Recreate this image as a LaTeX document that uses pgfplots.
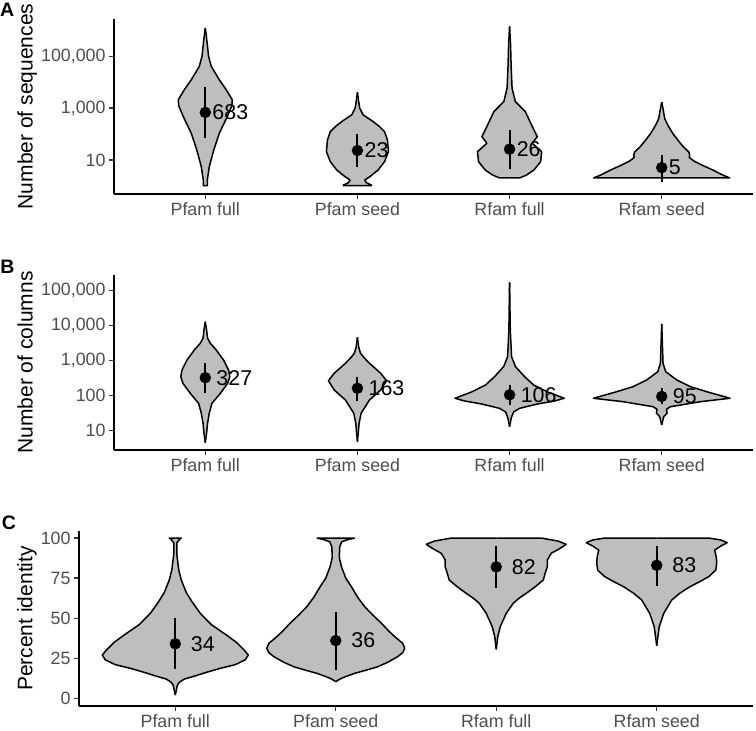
\documentclass[border=0pt]{standalone}
\usepackage{pgfplots}
\pgfplotsset{compat=1.18}
\usepackage{pgfplotstable}
\usepgfplotslibrary{fillbetween}
\usepackage{fontspec}
\setmainfont{Liberation Sans}
\definecolor{vgray}{HTML}{BEBEBE}
\definecolor{labcol}{HTML}{4D4D4D}
\definecolor{tickcol}{HTML}{333333}
\newcommand\ticksize{\fontsize{17.8bp}{20bp}\selectfont}
\newcommand\titlesize{\fontsize{21bp}{24bp}\selectfont}
\newcommand\labsize{\fontsize{21.4bp}{24bp}\selectfont}
\newcommand\letsize{\bfseries\fontsize{19.5bp}{22bp}\selectfont}

% ---------- Panel A: number of sequences ----------
\pgfplotstableread{
y w
1.26e6 0
4.4e5 0.0099
1e5 0.0217
4.1e4 0.0395
1.25e4 0.0921
5.1e3 0.1382
2.1e3 0.1776
1.23e3 0.1743
472 0.1447
225 0.1184
107 0.0921
24.2 0.0559
5.45 0.0263
1.66 0.0132
1.0 0.0132
1.0 0
}\tAa
\pgfplotstableread{
y w
4170 0
2000 0.007
1000 0.015
550 0.0375
303 0.103
194 0.145
124 0.178
59 0.197
20.8 0.204
8.5 0.178
4.06 0.136
2.23 0.081
1.66 0.048
1.31 0.059
1.06 0.092
1.0 0.092
1.0 0
}\tAb
\pgfplotstableread{
y w
1.46e6 0
2.8e5 0.0066
4.76e4 0.0099
5.96e3 0.0164
1.8e3 0.0375
738 0.103
303 0.134
144 0.160
79 0.182
44 0.149
20.8 0.211
8.5 0.204
4.06 0.160
2.6 0.112
2.0 0.066
2.0 0
}\tAc
\pgfplotstableread{
y w
1710 0
860 0.0099
398 0.0197
225 0.039
107 0.072
59 0.105
32.5 0.141
20.2 0.178
15.5 0.184
12.4 0.181
9.06 0.211
6.34 0.263
4.06 0.336
2.6 0.401
2.0 0.447
2.0 0
}\tAd

% ---------- Panel B: number of columns ----------
\pgfplotstableread{
y w
1.3e4 0
7530 0.0086
4360 0.015
3140 0.033
2020 0.072
1047 0.12
542 0.153
349 0.161
226 0.147
117 0.099
60.7 0.044
31.4 0.026
16.3 0.015
8.6 0.0086
4.54 0
}\tBa
\pgfplotstableread{
y w
4670 0
2500 0.008
1630 0.02
1200 0.045
843 0.079
437 0.153
268 0.191
146 0.153
75.4 0.079
31.4 0.024
16.3 0.011
4.86 0
}\tBb
\pgfplotstableread{
y w
1.74e5 0
7530 0.0046
1300 0.013
674 0.039
349 0.099
202 0.158
128 0.25
84.4 0.359
70.6 0.296
58 0.184
43.6 0.066
34.2 0.026
23.1 0.011
13 0
}\tBc
\pgfplotstableread{
y w
1.12e4 0
843 0.0086
485 0.026
281 0.099
181 0.189
130 0.296
84.4 0.449
67.5 0.255
48.5 0.057
40.8 0.031
31.4 0.035
25.1 0.013
14.6 0
}\tBd

% ---------- Panel C: percent identity ----------
\pgfplotstableread{
y w
100 0
100 0.0374
99 0.0249
97 0.0093
90 0.0093
80 0.0218
73.8 0.0374
66 0.0685
60 0.1059
53 0.1558
46 0.2243
40 0.3115
35 0.380
30 0.430
27 0.455
24 0.436
21 0.374
18.7 0.280
16 0.187
14 0.125
12 0.056
10 0.025
8 0.0125
2 0
}\tCa
\pgfplotstableread{
y w
100 0
100 0.1165
99 0.0748
97.7 0.0374
94.6 0.0249
88 0.0218
82.1 0.0355
75 0.0623
69.6 0.0978
63 0.137
57.1 0.181
52 0.2305
46.8 0.285
42 0.330
38.4 0.368
34.3 0.417
31.2 0.430
28.5 0.417
26 0.386
22.5 0.324
19.7 0.262
17.5 0.187
15.6 0.118
13.8 0.0685
12.5 0.0355
11.2 0.0125
10.4 0
}\tCb
\pgfplotstableread{
y w
100 0
100 0.280
98.1 0.386
96.1 0.436
93.6 0.399
90.5 0.343
86.3 0.318
82.1 0.318
78 0.305
73.8 0.293
69.6 0.243
65.5 0.187
62.5 0.143
59.3 0.106
53 0.0623
44.7 0.025
38.4 0.0093
30.6 0
}\tCc
\pgfplotstableread{
y w
100 0
100 0.324
98.8 0.399
97.1 0.439
95 0.399
92.5 0.361
88.3 0.371
84.2 0.374
80 0.368
75.9 0.324
72.8 0.268
69.6 0.206
65.5 0.143
61.3 0.0935
53 0.0436
44.7 0.0156
32.8 0
}\tCd

\newcommand{\violin}[3]{% #1 prefix, #2 centre, #3 table
  \addplot[draw=none, forget plot, name path=#1R] table[x expr=#2+\thisrow{w}, y=y] {#3};
  \addplot[draw=none, forget plot, name path=#1L] table[x expr=#2-\thisrow{w}, y=y] {#3};
  \addplot[fill=vgray, draw=none, forget plot] fill between[of=#1R and #1L];
  \addplot[vline, forget plot] table[x expr=#2+\thisrow{w}, y=y] {#3};
  \addplot[vline, forget plot] table[x expr=#2-\thisrow{w}, y=y] {#3};
}

\pgfplotsset{
  vline/.style={black, line width=1.5bp, line join=round},
  ebar/.style={black, line width=2bp, forget plot},
  panel/.style={
    scale only axis, height=175bp,
    xmin=0.4, xmax=4.6, xtick={1,2,3,4},
    xticklabels={Pfam full, Pfam seed, Rfam full, Rfam seed},
    axis x line=bottom, axis y line=left,
    axis line style={-, line width=1.5bp, black},
    tick align=outside, major tick length=5bp,
    every tick/.style={line width=1.3bp, tickcol},
    tick label style={font=\ticksize, text=labcol},
    yminorticks=false, xminorticks=false,
    clip=false,
  },
  ylab/.style={ylabel style={font=\titlesize, text=black, rotate=0,
    at={(axis description cs:#1,0.5)}, anchor=base}},
  pts/.style={only marks, mark=*, mark size=5.5bp, black,
    nodes near coords, point meta=explicit symbolic,
    every node near coord/.append style={anchor=west, inner sep=0pt, font=\labsize, text=black, xshift=#1}},
}

\begin{document}
\begin{tikzpicture}[x=1bp, y=1bp]
\path (0,0) rectangle (756,730);

% Panel A
\begin{axis}[panel, at={(114bp,536bp)}, anchor=south west, width=639bp,
  ymode=log, ymin=0.48, ymax=2.8e6,
  ytick={10,1000,100000}, yticklabels={10,{1,000},{100,000}},
  ylabel={Number of sequences}, ylab=-0.1275]
\violin{a1}{1}{\tAa}
\violin{a2}{2}{\tAb}
\violin{a3}{3}{\tAc}
\violin{a4}{4}{\tAd}
\addplot[ebar] coordinates {(1,68.7) (1,6500)};
\addplot[ebar] coordinates {(2,5.4) (2,98)};
\addplot[ebar] coordinates {(3,4.4) (3,144)};
\addplot[ebar] coordinates {(4,1.43) (4,15.5)};
\addplot[pts=7bp] table[meta=lab] {
x y lab
1 683 683
2 23 23
3 26 26
4 5 5
};
\end{axis}

% Panel B
\begin{axis}[panel, at={(114bp,280bp)}, anchor=south west, width=639bp,
  ymode=log, ymin=2.81, ymax=2.81e5,
  ytick={10,100,1000,10000,100000}, yticklabels={10,100,{1,000},{10,000},{100,000}},
  ylabel={Number of columns}, ylab=-0.1275]
\violin{b1}{1}{\tBa}
\violin{b2}{2}{\tBb}
\violin{b3}{3}{\tBc}
\violin{b4}{4}{\tBd}
\addplot[ebar] coordinates {(1,122) (1,843)};
\addplot[ebar] coordinates {(2,72) (2,349)};
\addplot[ebar] coordinates {(3,54) (3,202)};
\addplot[ebar] coordinates {(4,58) (4,163)};
\addplot[pts=11bp] table[meta=lab] {
x y lab
1 327 327
2 163 163
3 106 106
4 95 95
};
\end{axis}

% Panel C
\begin{axis}[panel, at={(79bp,24bp)}, anchor=south west, width=674bp,
  ymin=-4.8, ymax=104.4,
  ytick={0,25,50,75,100}, yticklabels={0,25,50,75,100},
  ylabel={Percent identity}, ylab=-0.0690]
\violin{c1}{1}{\tCa}
\violin{c2}{2}{\tCb}
\violin{c3}{3}{\tCc}
\violin{c4}{4}{\tCd}
\addplot[ebar] coordinates {(1,18.3) (1,49.9)};
\addplot[ebar] coordinates {(2,17.7) (2,53.6)};
\addplot[ebar] coordinates {(3,68.6) (3,95)};
\addplot[ebar] coordinates {(4,70) (4,95)};
\addplot[pts=15.5bp] table[meta=lab] {
x y lab
1 34 34
2 36 36
3 82 82
4 83 83
};
\end{axis}

\node[anchor=base west, inner sep=0pt, font=\letsize] at (0,713) {A};
\node[anchor=base west, inner sep=0pt, font=\letsize] at (0.3,456) {B};
\node[anchor=base west, inner sep=0pt, font=\letsize] at (1.7,200.7) {C};
\end{tikzpicture}
\end{document}
